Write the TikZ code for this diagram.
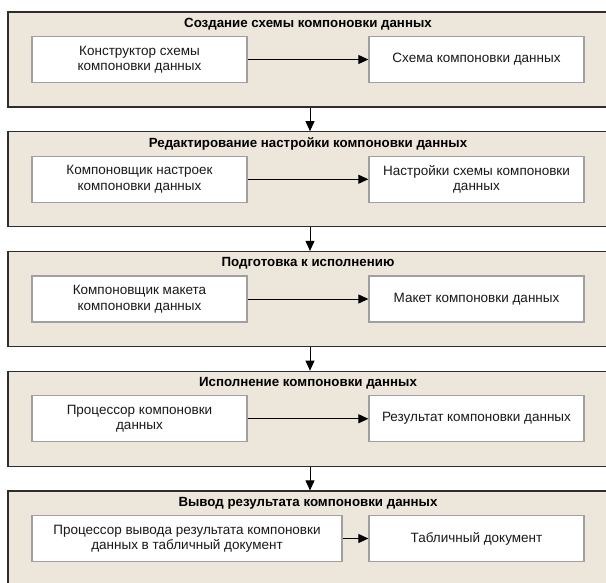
\documentclass[tikz,border=0pt]{standalone}
\usepackage{fontspec}
\setmainfont{Liberation Sans}
\usepackage{xcolor}
\usepackage{tikz}
\usetikzlibrary{positioning, arrows.meta}

\definecolor{stagefill}{RGB}{236,230,219}
\definecolor{stageline}{RGB}{45,45,45}
\definecolor{cellline}{RGB}{160,160,160}

\tikzset{
  stagebox/.style={draw=stageline, fill=stagefill, line width=1.2pt,
    minimum width=604pt, minimum height=95pt, inner sep=0pt},
  stagetitle/.style={font=\bfseries\fontsize{13.3}{15}\selectfont, inner sep=0pt},
  cellbox/.style={draw=cellline, fill=white, line width=1.3pt,
    minimum width=215pt, minimum height=46pt, align=center,
    font=\fontsize{13.5}{15.5}\selectfont, text=black!90}
}

\begin{document}
\begin{tikzpicture}[x=1pt, y=1pt, node distance=2cm, on grid, >={Triangle[length=10pt,width=9pt]}]
        \useasboundingbox (0,0) rectangle (606,-582);
        \clip (0,0) rectangle (606,-582);

        \node[stagebox] (f1) at (310,-59.5) {};
        \node[stagebox] (f2) [below=119.75pt of f1] {};
        \node[stagebox] (f3) [below=119.75pt of f2] {};
        \node[stagebox] (f4) [below=119.75pt of f3] {};
        \node[stagebox] (f5) [below=119.75pt of f4] {};

        \node[stagetitle] (h1) [above=35.5pt of f1, xshift=-2pt] {Создание схемы компоновки данных};
        \node[stagetitle] (h2) [above=35.5pt of f2, xshift=-2pt] {Редактирование настройки компоновки данных};
        \node[stagetitle] (h3) [above=35.5pt of f3, xshift=-2pt] {Подготовка к исполнению};
        \node[stagetitle] (h4) [above=35.5pt of f4, xshift=-2pt] {Исполнение компоновки данных};
        \node[stagetitle] (h5) [above=35.5pt of f5, xshift=-2pt] {Вывод результата компоновки данных};

        \node[cellbox] (k1) [left=170.5pt of f1] {Конструктор схемы\\компоновки данных};
        \node[cellbox] (r1) [right=166.5pt of f1] {Схема компоновки данных};

        \node[cellbox] (k2) [left=170.5pt of f2] {Компоновщик настроек\\компоновки данных};
        \node[cellbox] (r2) [right=166.5pt of f2] {Настройки схемы компоновки\\данных};

        \node[cellbox] (k3) [left=170.5pt of f3] {Компоновщик макета\\компоновки данных};
        \node[cellbox] (r3) [right=166.5pt of f3] {Макет компоновки данных};

        \node[cellbox] (k4) [left=170.5pt of f4] {Процессор компоновки\\данных};
        \node[cellbox] (r4) [right=166.5pt of f4] {Результат компоновки данных};

        \node[cellbox, minimum width=310pt] (k5) [left=123pt of f5] {Процессор вывода результата компоновки\\данных в табличный документ};
        \node[cellbox] (r5) [right=166.5pt of f5] {Табличный документ};

        \path[->, line width=0.9pt]
        (k1) edge (r1)
        (k2) edge (r2)
        (k3) edge (r3)
        (k4) edge (r4)
        (k5) edge (r5)

        (f1) edge (f2)
        (f2) edge (f3)
        (f3) edge (f4)
        (f4) edge (f5);

    \end{tikzpicture}
\end{document}
